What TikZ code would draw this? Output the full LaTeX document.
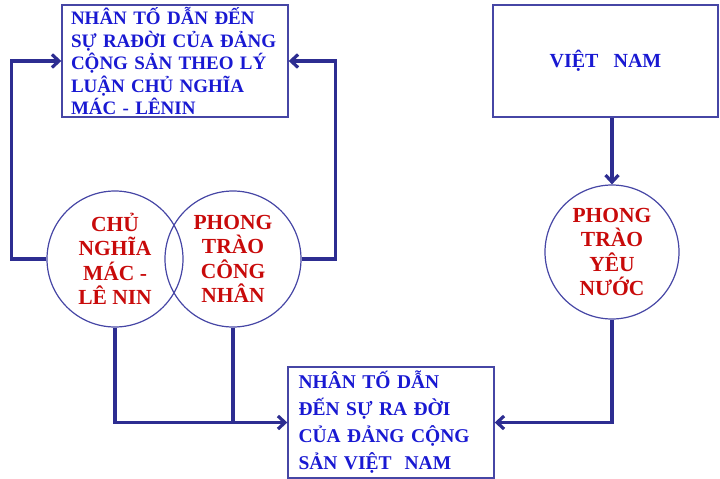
\documentclass[tikz,border=0pt]{standalone}
\usepackage{fontspec}
\setmainfont{Liberation Serif}
\usetikzlibrary{positioning}
\usetikzlibrary{arrows.meta}
\definecolor{khung}{RGB}{70,70,165}
\definecolor{duong}{RGB}{45,45,145}
\definecolor{chuxanh}{RGB}{25,25,210}
\definecolor{chudo}{RGB}{200,10,10}
\tikzset{
  hop/.style={draw=khung, line width=1.4pt, inner sep=0pt, text=chuxanh, align=left},
  vong/.style={circle, draw=khung, line width=1.2pt, minimum size=136pt, inner sep=0pt, text=chudo, align=center, font=\bfseries\fontsize{21.5}{24.5}\selectfont},
  noi/.style={draw=duong, line width=3.2pt},
  muiten/.style={noi, -{Straight Barb[length=7pt,width=13pt]}}
}
\newcommand{\dong}[2]{\makebox[#1][s]{#2}}

\begin{document}
\begin{tikzpicture}[x=1pt,y=-1pt]
            \useasboundingbox (0,0) rectangle (720,479);
            \node[hop, minimum width=226pt, minimum height=112pt, text width=208pt, font=\bfseries\fontsize{19}{22.5}\selectfont] (lyluan) at (175,61)
                {\dong{208pt}{NHÂN TỐ DẪN ĐẾN}\\ \dong{208pt}{SỰ RAĐỜI CỦA ĐẢNG}\\ \dong{208pt}{CỘNG SẢN THEO LÝ}\\ \dong{208pt}{LUẬN CHỦ NGHĨA}\\ MÁC - LÊNIN};
            \node[hop, minimum width=225pt, minimum height=112pt, font=\bfseries\fontsize{20}{22.5}\selectfont] (vn) at (605.5,61) {VIỆT\ \ \ NAM};
            \node[vong] (mln) at (115,259) {CHỦ\\ NGHĨA\\ MÁC -\\ LÊ NIN};
            \node[vong] (ptcn) at (233,259) {PHONG\\ TRÀO\\ CÔNG\\ NHÂN};
            \node[vong, minimum size=134pt] (ptyn) at (612,252) {PHONG\\ TRÀO\\ YÊU\\ NƯỚC};
            \node[hop, minimum width=206pt, minimum height=111pt, text width=185pt, font=\bfseries\fontsize{19.5}{27}\selectfont] (dang) at (391,422.5)
                {\dong{185pt}{NHÂN TỐ DẪN}\\ \dong{185pt}{ĐẾN SỰ RA ĐỜI}\\ \dong{185pt}{CỦA ĐẢNG CỘNG}\\ SẢN VIỆT\ \ NAM};
            \draw[muiten] (mln.west) -- ++(-35,0) |- (lyluan.west);
            \draw[muiten] (ptcn.east) -- ++(34,0) |- (lyluan.east);
            \draw[muiten] (vn.south -| ptyn.north) -- (ptyn.north);
            \draw[muiten] (mln.south) |- (dang.west);
            \draw[noi] (ptcn.south) -- (ptcn.south |- dang.west);
            \draw[muiten] (ptyn.south) |- (dang.east);
        \end{tikzpicture}
\end{document}
